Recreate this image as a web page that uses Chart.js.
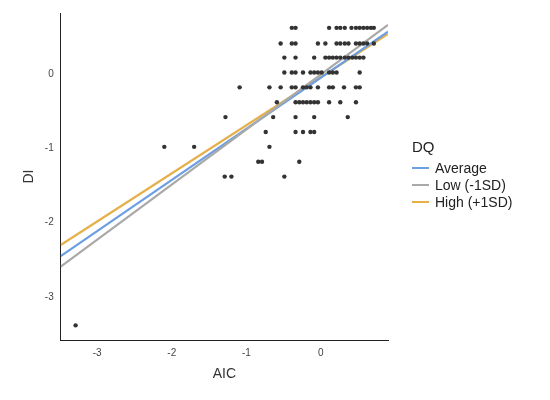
<!DOCTYPE html>
<html><head><meta charset="utf-8">
<script src="https://cdn.jsdelivr.net/npm/chart.js@4"></script>
<style>
body{margin:0;background:#fff;font-family:"Liberation Sans",Arial,sans-serif}
#wrap{position:relative;width:550px;height:400px}
#leg{position:absolute;left:412px;top:138px;font-size:14px;color:#222}
#leg div.t{margin-bottom:4px;font-size:15px}
#leg .r{display:flex;align-items:center;height:17px}
#leg .s{width:17px;height:2px;margin-right:6px}
</style></head><body>
<div id="wrap"><canvas id="c" width="550" height="400"></canvas>
<div id="leg"><div class="t">DQ</div>
<div class="r"><span class="s" style="background:#6b9ee3"></span>Average</div>
<div class="r"><span class="s" style="background:#a9a9a9"></span>Low (-1SD)</div>
<div class="r"><span class="s" style="background:#e5b04a"></span>High (+1SD)</div></div></div>
<script>
const rowY=[0.62,0.41,0.22,0.02,-0.18,-0.38,-0.58,-0.78,-0.98,-1.18,-1.38,-3.38];
const rowX=[
[-0.39,-0.34,0.11,0.21,0.26,0.32,0.41,0.47,0.52,0.57,0.62,0.67,0.71],
[-0.54,-0.39,-0.34,-0.04,0.06,0.21,0.26,0.32,0.37,0.47,0.52,0.57,0.62,0.71],
[-0.49,-0.34,-0.09,0.06,0.11,0.16,0.21,0.26,0.32,0.37,0.42,0.47,0.52,0.57],
[-0.49,-0.39,-0.34,-0.24,-0.14,-0.09,-0.04,0.01,0.11,0.16,0.21,0.52],
[-1.09,-0.69,-0.54,-0.39,-0.34,-0.24,-0.19,-0.14,-0.04,0.11,0.16,0.31,0.47,0.52],
[-0.59,-0.34,-0.29,-0.24,-0.19,-0.14,-0.09,-0.04,0.11,0.26,0.47],
[-1.28,-0.64,-0.34,-0.09,0.36],
[-0.74,-0.34,-0.24,-0.14,-0.09],
[-2.1,-1.7,-0.69],
[-0.84,-0.79,-0.29],
[-1.29,-1.2,-0.49],
[-3.29]];
const lineX=[-3.49,0.9];
const avgY=[-2.45,0.57];
const lowY=[-2.59,0.66];
const highY=[-2.30,0.54];
const pts=[];rowX.forEach((xs,i)=>xs.forEach(x=>pts.push({x:x,y:rowY[i]})));
const L=(ys)=>lineX.map((x,i)=>({x:x,y:ys[i]}));
const ln=(d,c)=>({type:'line',data:L(d),borderColor:c,borderWidth:2.2,pointRadius:0,fill:false});
new Chart(document.getElementById('c'),{type:'scatter',
data:{datasets:[
{data:pts,backgroundColor:'#333',borderWidth:0,pointRadius:2.2},
ln(lowY,'#a9a9a9'),ln(avgY,'#6b9ee3'),ln(highY,'#e5b04a')]},
options:{responsive:false,animation:false,
layout:{padding:{top:13,right:162,bottom:13,left:17}},
plugins:{legend:{display:false},tooltip:{enabled:false}},
scales:{
x:{type:'linear',min:-3.49,max:0.9,grid:{display:false,drawTicks:true,tickLength:4,tickColor:'#333'},border:{color:'#222'},
ticks:{stepSize:1,color:'#444',font:{size:10}},afterBuildTicks:a=>{a.ticks=[-3,-2,-1,0].map(v=>({value:v}));},
title:{display:true,text:'AIC',color:'#333',font:{size:14}}},
y:{type:'linear',min:-3.58,max:0.82,grid:{display:false,drawTicks:true,tickLength:4,tickColor:'#333'},border:{color:'#222'},
ticks:{color:'#444',font:{size:10}},afterBuildTicks:a=>{a.ticks=[-3,-2,-1,0].map(v=>({value:v}));},
title:{display:true,text:'DI',color:'#333',font:{size:14}}}}}});
</script></body></html>
